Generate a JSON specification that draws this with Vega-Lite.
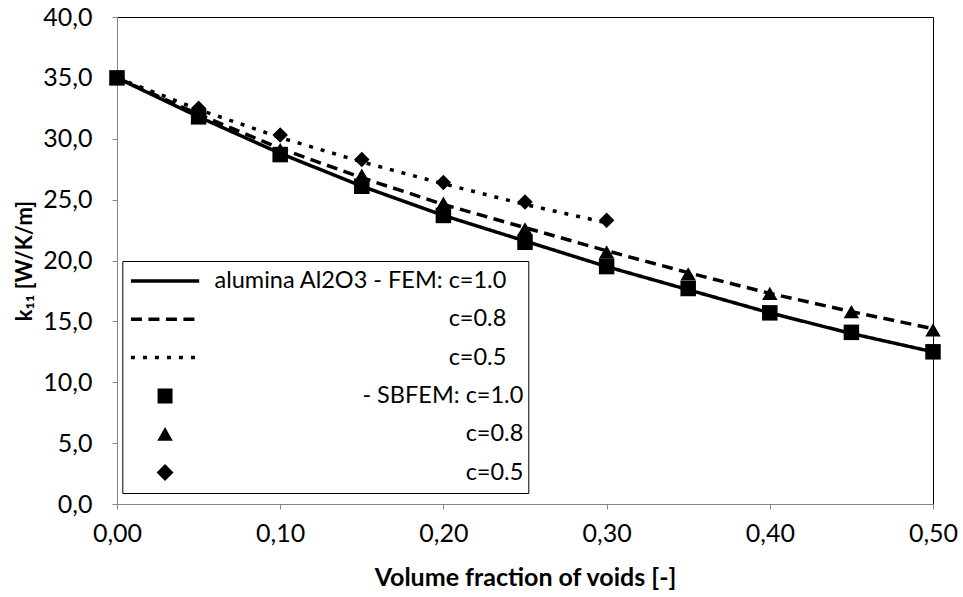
{
  "$schema": "https://vega.github.io/schema/vega-lite/v6.json",
  "width": 816,
  "height": 487,
  "autosize": {"type": "none"},
  "padding": {"left": 117, "top": 17, "right": 30, "bottom": 93},
  "background": "white",
  "config": {
    "view": {"stroke": "black", "strokeWidth": 1},
    "font": "Lato",
    "axis": {
      "grid": false,
      "domainColor": "#868686",
      "tickColor": "#868686",
      "tickSize": 5,
      "labelFont": "Lato",
      "labelFontSize": 25,
      "labelColor": "black",
      "titleFont": "Lato",
      "titleFontWeight": "bold",
      "titleColor": "black"
    }
  },
  "data": {
    "values": [
      {"x": 0.00, "k": 35.0, "series": "FEM c=1.0", "method": "FEM"},
      {"x": 0.05, "k": 31.8, "series": "FEM c=1.0", "method": "FEM"},
      {"x": 0.10, "k": 28.8, "series": "FEM c=1.0", "method": "FEM"},
      {"x": 0.15, "k": 26.1, "series": "FEM c=1.0", "method": "FEM"},
      {"x": 0.20, "k": 23.7, "series": "FEM c=1.0", "method": "FEM"},
      {"x": 0.25, "k": 21.6, "series": "FEM c=1.0", "method": "FEM"},
      {"x": 0.30, "k": 19.5, "series": "FEM c=1.0", "method": "FEM"},
      {"x": 0.35, "k": 17.6, "series": "FEM c=1.0", "method": "FEM"},
      {"x": 0.40, "k": 15.7, "series": "FEM c=1.0", "method": "FEM"},
      {"x": 0.45, "k": 14.0, "series": "FEM c=1.0", "method": "FEM"},
      {"x": 0.50, "k": 12.5, "series": "FEM c=1.0", "method": "FEM"},
      {"x": 0.00, "k": 35.0, "series": "FEM c=0.8", "method": "FEM"},
      {"x": 0.05, "k": 32.0, "series": "FEM c=0.8", "method": "FEM"},
      {"x": 0.10, "k": 29.2, "series": "FEM c=0.8", "method": "FEM"},
      {"x": 0.15, "k": 26.8, "series": "FEM c=0.8", "method": "FEM"},
      {"x": 0.20, "k": 24.6, "series": "FEM c=0.8", "method": "FEM"},
      {"x": 0.25, "k": 22.7, "series": "FEM c=0.8", "method": "FEM"},
      {"x": 0.30, "k": 20.8, "series": "FEM c=0.8", "method": "FEM"},
      {"x": 0.35, "k": 19.0, "series": "FEM c=0.8", "method": "FEM"},
      {"x": 0.40, "k": 17.3, "series": "FEM c=0.8", "method": "FEM"},
      {"x": 0.45, "k": 15.8, "series": "FEM c=0.8", "method": "FEM"},
      {"x": 0.50, "k": 14.4, "series": "FEM c=0.8", "method": "FEM"},
      {"x": 0.00, "k": 35.0, "series": "FEM c=0.5", "method": "FEM"},
      {"x": 0.05, "k": 32.4, "series": "FEM c=0.5", "method": "FEM"},
      {"x": 0.10, "k": 30.1, "series": "FEM c=0.5", "method": "FEM"},
      {"x": 0.15, "k": 28.1, "series": "FEM c=0.5", "method": "FEM"},
      {"x": 0.20, "k": 26.3, "series": "FEM c=0.5", "method": "FEM"},
      {"x": 0.25, "k": 24.6, "series": "FEM c=0.5", "method": "FEM"},
      {"x": 0.30, "k": 23.1, "series": "FEM c=0.5", "method": "FEM"},
      {"x": 0.00, "k": 35.0, "series": "SBFEM c=1.0", "method": "SBFEM"},
      {"x": 0.05, "k": 31.8, "series": "SBFEM c=1.0", "method": "SBFEM"},
      {"x": 0.10, "k": 28.7, "series": "SBFEM c=1.0", "method": "SBFEM"},
      {"x": 0.15, "k": 26.1, "series": "SBFEM c=1.0", "method": "SBFEM"},
      {"x": 0.20, "k": 23.7, "series": "SBFEM c=1.0", "method": "SBFEM"},
      {"x": 0.25, "k": 21.5, "series": "SBFEM c=1.0", "method": "SBFEM"},
      {"x": 0.30, "k": 19.5, "series": "SBFEM c=1.0", "method": "SBFEM"},
      {"x": 0.35, "k": 17.7, "series": "SBFEM c=1.0", "method": "SBFEM"},
      {"x": 0.40, "k": 15.7, "series": "SBFEM c=1.0", "method": "SBFEM"},
      {"x": 0.45, "k": 14.1, "series": "SBFEM c=1.0", "method": "SBFEM"},
      {"x": 0.50, "k": 12.5, "series": "SBFEM c=1.0", "method": "SBFEM"},
      {"x": 0.00, "k": 35.0, "series": "SBFEM c=0.8", "method": "SBFEM"},
      {"x": 0.05, "k": 32.1, "series": "SBFEM c=0.8", "method": "SBFEM"},
      {"x": 0.10, "k": 29.1, "series": "SBFEM c=0.8", "method": "SBFEM"},
      {"x": 0.15, "k": 27.0, "series": "SBFEM c=0.8", "method": "SBFEM"},
      {"x": 0.20, "k": 24.7, "series": "SBFEM c=0.8", "method": "SBFEM"},
      {"x": 0.25, "k": 22.6, "series": "SBFEM c=0.8", "method": "SBFEM"},
      {"x": 0.30, "k": 20.7, "series": "SBFEM c=0.8", "method": "SBFEM"},
      {"x": 0.35, "k": 18.9, "series": "SBFEM c=0.8", "method": "SBFEM"},
      {"x": 0.40, "k": 17.3, "series": "SBFEM c=0.8", "method": "SBFEM"},
      {"x": 0.45, "k": 15.8, "series": "SBFEM c=0.8", "method": "SBFEM"},
      {"x": 0.50, "k": 14.3, "series": "SBFEM c=0.8", "method": "SBFEM"},
      {"x": 0.00, "k": 35.0, "series": "SBFEM c=0.5", "method": "SBFEM"},
      {"x": 0.05, "k": 32.5, "series": "SBFEM c=0.5", "method": "SBFEM"},
      {"x": 0.10, "k": 30.3, "series": "SBFEM c=0.5", "method": "SBFEM"},
      {"x": 0.15, "k": 28.3, "series": "SBFEM c=0.5", "method": "SBFEM"},
      {"x": 0.20, "k": 26.4, "series": "SBFEM c=0.5", "method": "SBFEM"},
      {"x": 0.25, "k": 24.8, "series": "SBFEM c=0.5", "method": "SBFEM"},
      {"x": 0.30, "k": 23.3, "series": "SBFEM c=0.5", "method": "SBFEM"}
    ]
  },
  "encoding": {
    "x": {
      "field": "x", "type": "quantitative",
      "scale": {"domain": [0, 0.5], "nice": false, "zero": false},
      "axis": {
        "title": "Volume fraction of voids [-]",
        "titleFontSize": 25,
        "values": [0, 0.1, 0.2, 0.3, 0.4, 0.5],
        "labelExpr": "replace(format(datum.value, '.2f'), '.', ',')",
        "labelFlush": false,
        "labelPadding": 12,
        "titlePadding": 19
      }
    },
    "y": {
      "field": "k", "type": "quantitative",
      "scale": {"domain": [0, 40], "nice": false},
      "axis": {
        "title": "k₁₁ [W/K/m]",
        "titleFontSize": 22,
        "values": [0, 5, 10, 15, 20, 25, 30, 35, 40],
        "labelExpr": "replace(format(datum.value, '.1f'), '.', ',')",
        "labelFlush": false,
        "labelPadding": 20,
        "titlePadding": 6
      }
    }
  },
  "layer": [
    {
      "transform": [{"filter": "datum.method === 'FEM'"}],
      "mark": {"type": "line", "color": "black", "strokeWidth": 3.5, "strokeCap": "butt", "strokeJoin": "round"},
      "encoding": {
        "detail": {"field": "series", "type": "nominal"},
        "strokeDash": {
          "field": "series", "type": "nominal",
          "scale": {
            "domain": ["FEM c=1.0", "FEM c=0.8", "FEM c=0.5", "SBFEM c=1.0", "SBFEM c=0.8", "SBFEM c=0.5"],
            "range": [[1, 0], [11, 6.5], [4, 8], [1, 0], [1, 0], [1, 0]]
          },
          "legend": {
            "title": null,
            "orient": "none",
            "legendX": 5.3,
            "legendY": 244,
            "padding": 5,
            "fillColor": "white",
            "strokeColor": "black",
            "symbolSize": 4225,
            "symbolStrokeWidth": 3.5,
            "symbolType": {"expr": "indexof(datum.value, 'FEM') === 0 ? 'M-0.95,0H1.15' : datum.value === 'SBFEM c=1.0' ? 'M-0.13,-0.23H0.33V0.23H-0.13Z' : datum.value === 'SBFEM c=0.8' ? 'M0.1,-0.22L0.34,0.2H-0.14Z' : 'M0.1,-0.26L0.36,0L0.1,0.26L-0.16,0Z'"},
            "symbolFillColor": {"expr": "indexof(datum.value, 'FEM') === 0 ? 'transparent' : 'black'"},
            "symbolStrokeColor": {"expr": "indexof(datum.value, 'FEM') === 0 ? 'black' : 'transparent'"},
            "symbolOpacity": 1,
            "clipHeight": 30,
            "rowPadding": 8.3,
            "labelAlign": "right",
            "labelOffset": {"expr": "indexof(datum.value, 'SBFEM') === 0 ? 327 : 310"},
            "labelLimit": 600,
            "labelFont": "Lato",
            "labelFontSize": 23.5,
            "labelColor": "black",
            "labelExpr": "datum.value === 'FEM c=1.0' ? 'alumina Al2O3 - FEM: c=1.0' : datum.value === 'SBFEM c=1.0' ? '- SBFEM: c=1.0' : slice(datum.value, indexof(datum.value, 'c='))"
          }
        }
      }
    },
    {
      "transform": [{"filter": "datum.method === 'SBFEM'"}],
      "mark": {"type": "point", "filled": true, "color": "black", "opacity": 1, "size": 240},
      "encoding": {
        "shape": {
          "field": "series", "type": "nominal",
          "scale": {
            "domain": ["SBFEM c=1.0", "SBFEM c=0.8", "SBFEM c=0.5"],
            "range": ["square", "triangle-up", "diamond"]
          },
          "legend": null
        }
      }
    }
  ]
}
